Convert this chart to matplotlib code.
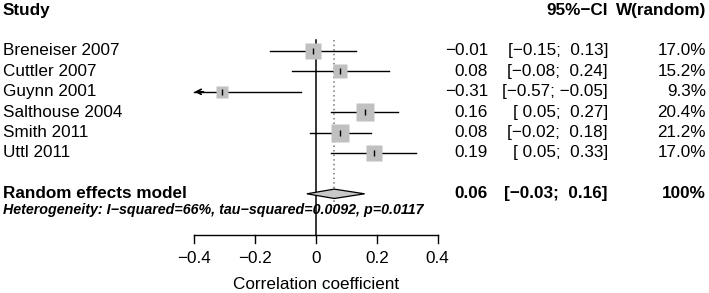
import numpy as np
import matplotlib.pyplot as plt
from matplotlib.patches import Polygon

plt.rcParams['font.family'] = ['Liberation Sans', 'DejaVu Sans']

# study data
studies = ['Breneiser 2007', 'Cuttler 2007', 'Guynn 2001', 'Salthouse 2004', 'Smith 2011', 'Uttl 2011']
est = [-0.01, 0.08, -0.31, 0.16, 0.08, 0.19]
lower = [-0.15, -0.08, -0.57, 0.05, -0.02, 0.05]
upper = [0.13, 0.24, -0.05, 0.27, 0.18, 0.33]
weights = [17.0, 15.2, 9.3, 20.4, 21.2, 17.0]

# pooled (random effects)
re_est = 0.06
re_lower = -0.03
re_upper = 0.16
het_text = 'Heterogeneity: I\u2212squared=66%, tau\u2212squared=0.0092, p=0.0117'

ticks = [-0.4, -0.2, 0, 0.2, 0.4]
tick_labels = ['\u22120.4', '\u22120.2', '0', '0.2', '0.4']
xmin, xmax = -0.4, 0.4

def fmt(v):
    return ('%.2f' % v).replace('-', '\u2212')

def pad(v):
    # pad positive numbers so they line up with negative ones
    return fmt(v) if v < 0 else ' ' + fmt(v)

def ci_str(lo, hi):
    return '[%s; %s]' % (pad(lo), pad(hi))

fig = plt.figure(figsize=(7.09, 2.93), dpi=100)
ax = fig.add_axes([0, 0, 1, 1])
# x: correlation scale, 0 at 316px and 0.1 per 30.4px
ax.set_xlim(-316 / 304, (709 - 316) / 304)
# y: row units, row 0 at 30.6px, 20.4px per row
ax.set_ylim((293 - 30.6) / 20.4, -30.6 / 20.4)
ax.axis('off')

tf = ax.get_yaxis_transform()  # x axes-fraction, y data
def fx(px):
    return px / 709

fs = 12.3
rows = np.arange(1, len(studies) + 1)

# header
ax.text(fx(3), -1, 'Study', transform=tf, fontsize=fs, fontweight='bold', va='center', ha='left')
ax.text(fx(608), -1, '95%\u2212CI', transform=tf, fontsize=fs, fontweight='bold', va='center', ha='right')
ax.text(fx(706), -1, 'W(random)', transform=tf, fontsize=fs, fontweight='bold', va='center', ha='right')

# reference lines
ax.plot([0, 0], [0.46, 10], color='black', lw=1.1, zorder=1)
ax.plot([re_est, re_est], [0.46, 8.6], color='#777777', lw=1.1, ls=(0, (1, 2)), zorder=1)

for i, r in enumerate(rows):
    ax.text(fx(3), r, studies[i], transform=tf, fontsize=fs, va='center', ha='left')
    ax.text(fx(488), r, fmt(est[i]), transform=tf, fontsize=fs, va='center', ha='right')
    ax.text(fx(608), r, ci_str(lower[i], upper[i]), transform=tf, fontsize=fs, va='center', ha='right')
    ax.text(fx(706), r, '%.1f%%' % weights[i], transform=tf, fontsize=fs, va='center', ha='right')

    lo = max(lower[i], xmin)
    hi = min(upper[i], xmax)
    ax.plot([lo, hi], [r, r], color='black', lw=1.0, zorder=2)
    if lower[i] < xmin:
        ax.annotate('', xy=(xmin, r), xytext=(xmin + 0.03, r),
                    arrowprops=dict(arrowstyle='->', color='black', lw=1.2,
                                    shrinkA=0, shrinkB=0, mutation_scale=9), zorder=3)
    ms = 2.75 * np.sqrt(weights[i])
    ax.plot(est[i], r, marker='s', ms=ms, mfc='#c0c0c0', mec='none', zorder=3)
    ax.plot(est[i], r, marker='|', ms=5, mew=1.0, color='black', zorder=4)

# pooled row
pr = 8
ax.text(fx(3), pr, 'Random effects model', transform=tf, fontsize=fs, fontweight='bold', va='center', ha='left')
ax.text(fx(488), pr, fmt(re_est), transform=tf, fontsize=fs, fontweight='bold', va='center', ha='right')
ax.text(fx(608), pr, ci_str(re_lower, re_upper), transform=tf, fontsize=fs, fontweight='bold', va='center', ha='right')
ax.text(fx(706), pr, '100%', transform=tf, fontsize=fs, fontweight='bold', va='center', ha='right')
dh = 0.23
diamond = Polygon([[re_lower, pr], [re_est, pr - dh], [re_upper, pr], [re_est, pr + dh]],
                  closed=True, facecolor='#c8c8c8', edgecolor='black', lw=0.9, zorder=3)
ax.add_patch(diamond)
ax.text(fx(3), 8.8, het_text, transform=tf, fontsize=10.3, fontweight='bold', style='italic',
        va='center', ha='left', zorder=5)

# x axis
ya = 10
ax.plot([xmin, xmax], [ya, ya], color='black', lw=1.0)
for t, lab in zip(ticks, tick_labels):
    ax.plot([t, t], [ya, ya + 0.4], color='black', lw=1.0)
    ax.text(t, 11.15, lab, fontsize=12.3, va='center', ha='center')
ax.text(0, 12.47, 'Correlation coefficient', fontsize=12.3, va='center', ha='center')

fig.savefig('out.png', dpi=100)
